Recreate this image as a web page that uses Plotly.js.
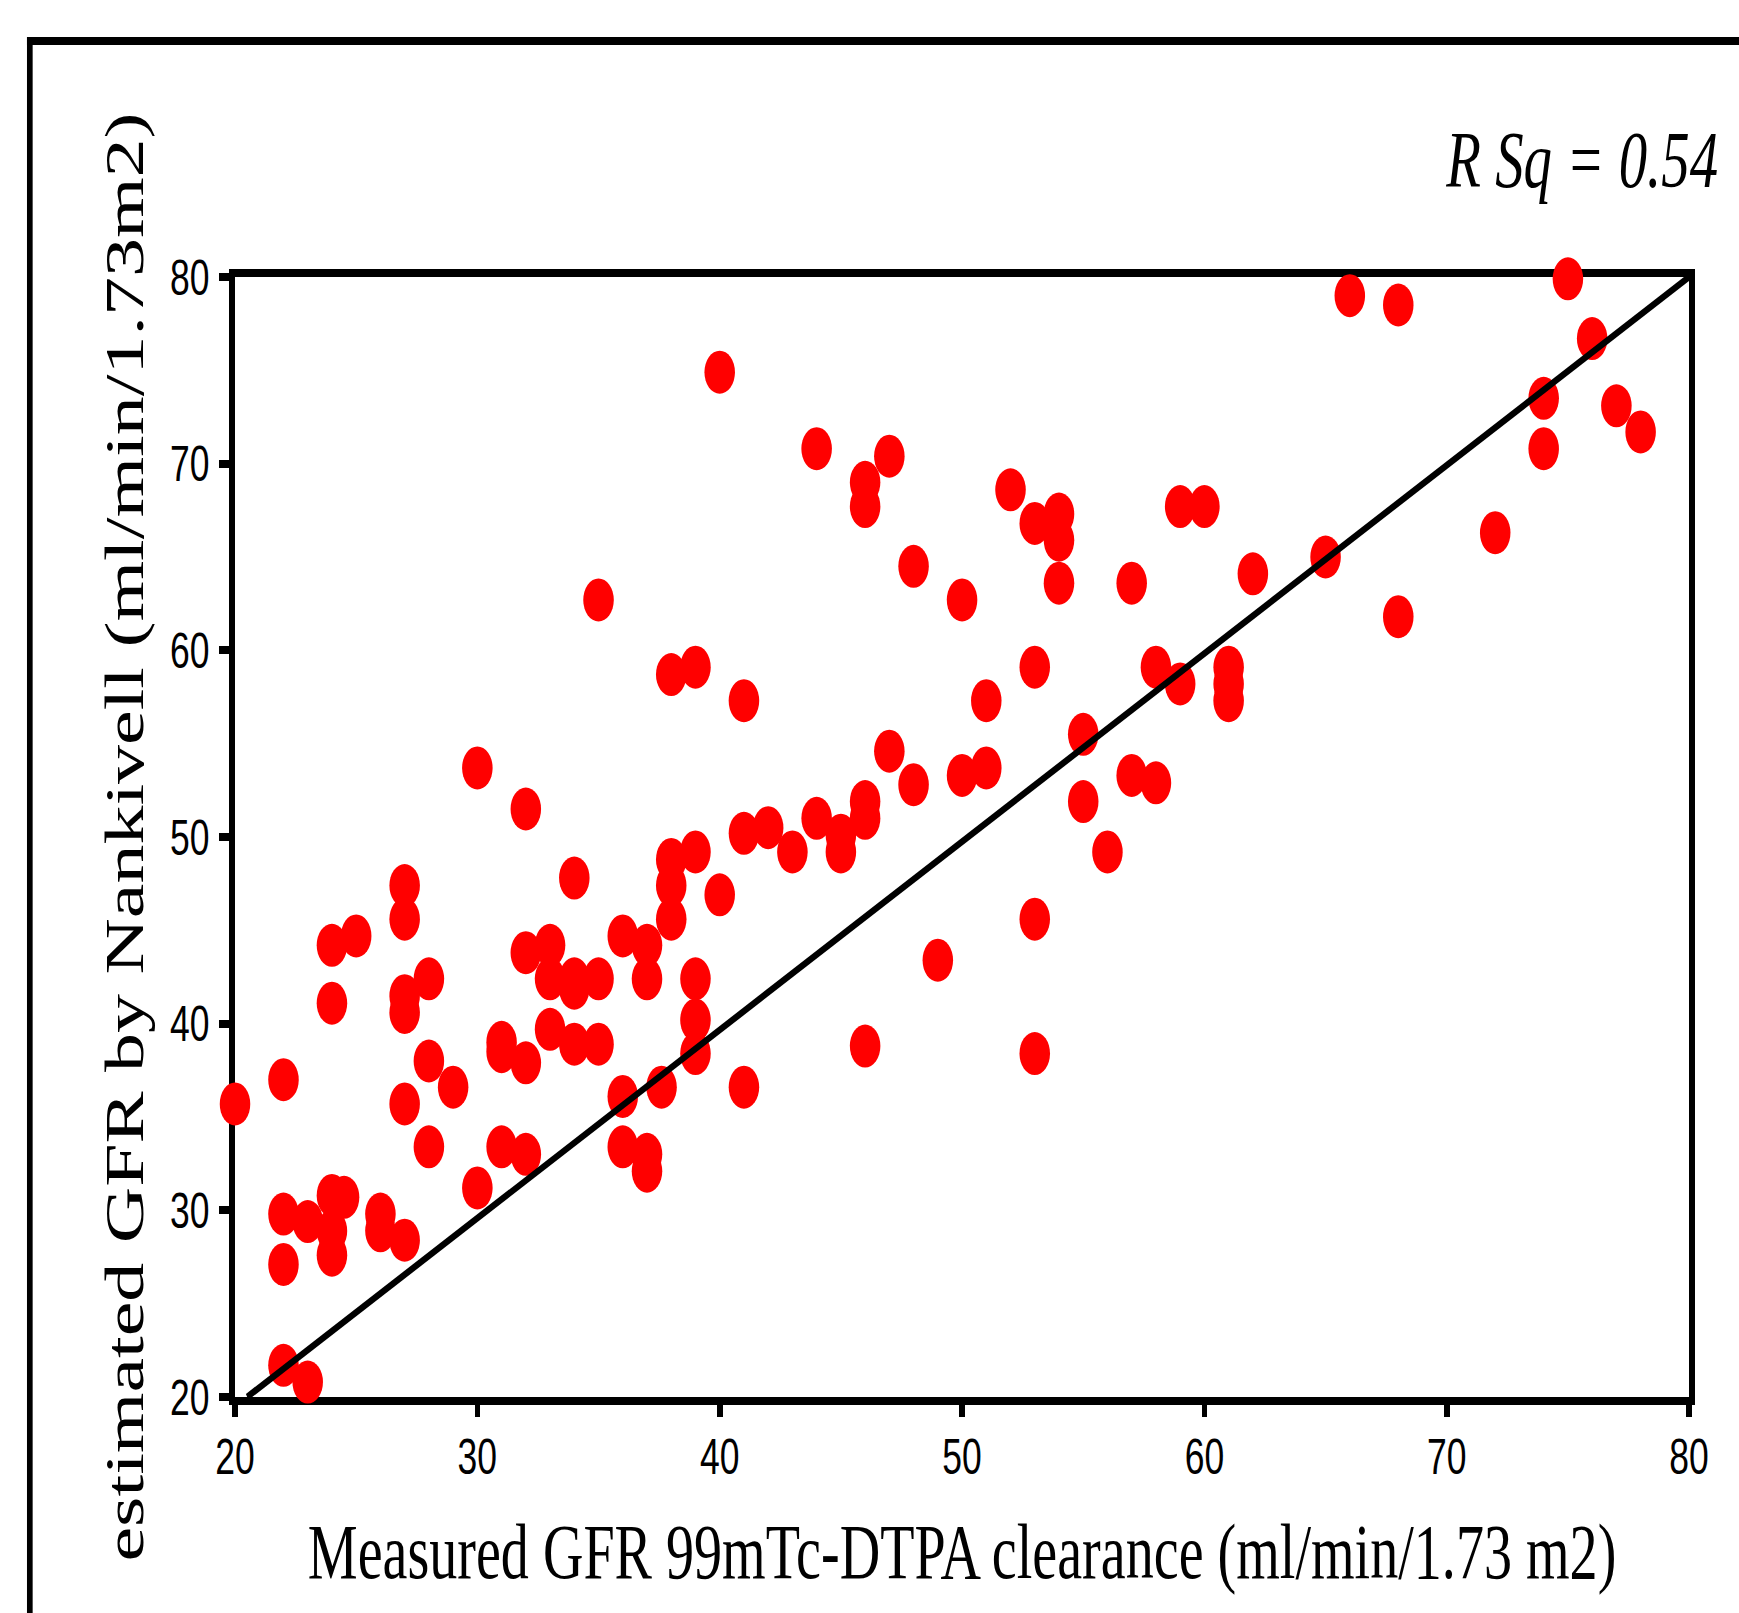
<!DOCTYPE html>
<html>
<head>
<meta charset="utf-8">
<script src="https://cdn.plot.ly/plotly-3.0.1.min.js"></script>
<style>
  html, body { margin: 0; padding: 0; background: #ffffff; overflow: hidden; }
  #wrap { width: 1739px; height: 1613px; overflow: hidden; position: relative; }
  #chart { transform-origin: 0 0; }
</style>
</head>
<body>
<div id="wrap"><div id="chart"></div></div>
<script>
// ---- data ----
const measuredGFR = [
  20, 22, 22, 22, 22, 23, 23, 24, 24, 24, 24.5, 24, 24, 25, 26, 26,
  27, 27, 27, 27, 27, 27, 28, 28, 28, 29, 30, 30, 31, 31, 31,
  32, 32, 32, 32, 33, 33, 33, 34, 34, 34, 34, 35, 35, 35,
  36, 36, 36, 37, 37, 37, 37, 37.6, 38, 38, 38, 38,
  39, 39, 39, 39, 39, 40, 40, 41, 41, 41, 42, 43, 44, 44, 45, 45,
  46, 46, 46, 46, 46, 47, 47, 48, 48, 49, 50, 50, 51, 51, 52,
  53, 53, 53, 53, 54, 54, 54, 55, 55, 56, 57, 57, 58, 58, 59, 59, 60,
  61, 61, 61, 62, 65, 66, 68, 68, 72, 74, 74, 75, 76, 77, 78
];
const estimatedGFR = [
  35.7, 37.0, 29.8, 27.1, 21.7, 29.4, 20.8, 44.2, 41.1, 30.8, 30.7, 28.9, 27.6, 44.7, 29.8, 28.9,
  47.4, 45.6, 41.5, 40.6, 35.7, 28.4, 42.4, 38.0, 33.4, 36.6, 53.7, 31.2, 39.0, 38.5, 33.4,
  51.5, 43.8, 37.9, 33.0, 44.2, 42.4, 39.7, 47.8, 42.4, 41.9, 38.9, 62.7, 42.4, 38.9,
  44.7, 36.1, 33.4, 44.2, 42.4, 33.0, 32.1, 36.6, 58.7, 48.8, 47.4, 45.6,
  59.1, 49.2, 42.4, 40.2, 38.4, 74.9, 46.9, 57.3, 50.2, 36.6, 50.5, 49.2, 70.8, 51.0, 50.1, 49.2,
  69.0, 67.7, 51.9, 51.0, 38.8, 70.4, 54.6, 64.5, 52.8, 43.4, 62.7, 53.3, 57.3, 53.7, 68.6,
  66.8, 59.1, 45.6, 38.4, 67.3, 65.9, 63.6, 55.5, 51.9, 49.2, 63.6, 53.3, 59.1, 52.9, 67.7, 58.2, 67.7,
  59.1, 58.2, 57.3, 64.1, 65.0, 79.0, 78.5, 61.8, 66.3, 73.5, 70.8, 79.9, 76.7, 73.1, 71.7
];
const refLineX = [20.5, 80];
const refLineY = [20, 80];
const tickValues = [20, 30, 40, 50, 60, 70, 80];
const tickLabels = ['20', '30', '40', '50', '60', '70', '80'];
const xTitle = 'Measured GFR 99mTc-DTPA clearance (ml/min/1.73 m2)';
const yTitle = 'estimated GFR by Nankivell (ml/min/1.73m2)';
const rsqText = 'R Sq = 0.54';

// ---- layout geometry (the original figure is horizontally squeezed) ----
const SQUEEZE = 0.71;
const W = 2450, H = 1613;
const M = { l: 331, r: 71, t: 277, b: 216 };
const plotW = W - M.l - M.r, plotH = H - M.t - M.b;
const paperX = px => (px - M.l) / plotW;
const paperY = py => (H - M.b - py) / plotH;

const chart = document.getElementById('chart');
chart.style.width = W + 'px';
chart.style.height = H + 'px';
chart.style.transform = 'scaleX(' + SQUEEZE + ')';

const tickFont = { family: 'Liberation Sans, Arial, sans-serif', size: 50, color: '#000000' };
const serif = 'Liberation Serif, Times New Roman, serif';

const traces = [
  {
    type: 'scatter', mode: 'markers',
    x: measuredGFR, y: estimatedGFR,
    marker: { color: '#ff0000', size: 43, line: { width: 0 } },
    cliponaxis: false, hoverinfo: 'skip', showlegend: false
  },
  {
    type: 'scatter', mode: 'lines',
    x: refLineX, y: refLineY,
    line: { color: '#000000', width: 7 },
    cliponaxis: false, hoverinfo: 'skip', showlegend: false
  }
];

const axisCommon = {
  range: [20, 80], autorange: false,
  tickmode: 'array', tickvals: tickValues, ticktext: tickLabels,
  showgrid: false, zeroline: false,
  showline: true, linecolor: '#000000', linewidth: 8, mirror: true,
  ticks: 'outside', tickcolor: '#000000', tickwidth: 8,
  tickfont: tickFont, layer: 'below traces', automargin: false
};

const layout = {
  width: W, height: H,
  margin: M,
  paper_bgcolor: '#ffffff', plot_bgcolor: '#ffffff',
  showlegend: false,
  xaxis: Object.assign({}, axisCommon, {
    ticklen: 12, ticklabelstandoff: -3,
    title: { text: xTitle, font: { family: serif, size: 79, color: '#000000' }, standoff: 42 }
  }),
  yaxis: Object.assign({}, axisCommon, {
    ticklen: 15, ticklabelstandoff: 3,
    title: { text: yTitle, font: { family: serif, size: 78, color: '#000000' }, standoff: 14 }
  }),
  annotations: [
    {
      text: rsqText, xref: 'paper', yref: 'paper',
      x: paperX(2422), y: paperY(160), xanchor: 'right', yanchor: 'middle',
      showarrow: false,
      font: { family: serif, size: 80, style: 'italic', color: '#000000' }
    }
  ],
  shapes: [
    { type: 'line', xref: 'paper', yref: 'paper',
      x0: paperX(38), x1: paperX(W + 60), y0: paperY(41), y1: paperY(41),
      line: { color: '#000000', width: 8 } },
    { type: 'line', xref: 'paper', yref: 'paper',
      x0: paperX(42), x1: paperX(42), y0: paperY(37), y1: paperY(H + 60),
      line: { color: '#000000', width: 8 } }
  ]
};

Plotly.newPlot(chart, traces, layout, { staticPlot: true, displayModeBar: false });
</script>
</body>
</html>
